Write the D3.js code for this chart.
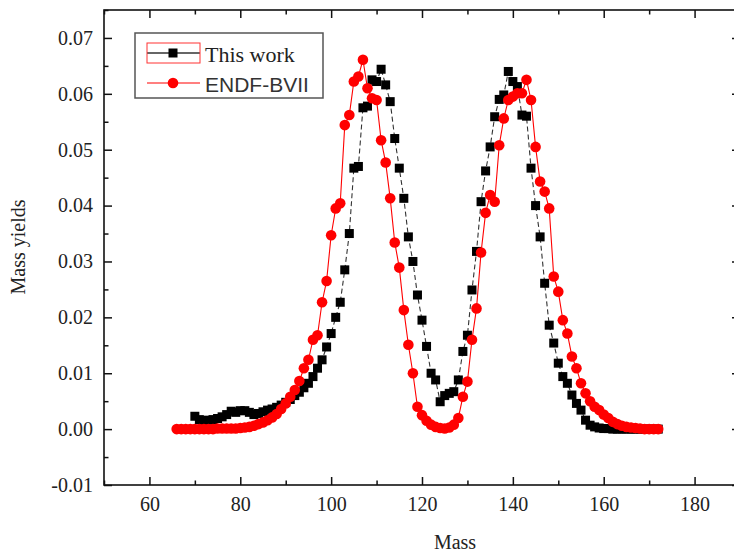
<!DOCTYPE html>
<html>
<head>
<meta charset="utf-8">
<script src="https://cdn.jsdelivr.net/npm/d3@7"></script>
<style>
	body { margin: 0; background: #fff; }
	svg { display: block; }
	.tick text { font-family: "Liberation Serif", "Times New Roman", serif; font-size: 20px; fill: #222; }
</style>
</head>
<body>
<div id="chart"></div>
<script>
// This work (black squares)
var massThis = [70, 71, 72, 73, 74, 75, 76, 77, 78, 79, 80, 81, 82, 83, 84, 85, 86, 87, 88, 89,
	90, 91, 92, 93, 94, 95, 96, 97, 98, 99, 100, 101, 102, 103, 104, 105, 106, 107, 108, 109,
	110, 111, 112, 113, 114, 115, 116, 117, 118, 119, 120, 121, 122, 123, 124, 125, 126, 127, 128, 129,
	130, 131, 132, 133, 134, 135, 136, 137, 138, 139, 140, 141, 142, 143, 144, 145, 146, 147, 148, 149,
	150, 151, 152, 153, 154, 155, 156, 157, 158, 159, 160, 161, 162, 163, 164, 165, 166, 167, 168, 169,
	170, 171, 172];
var yieldThis = [0.0023, 0.0017, 0.0015, 0.0016, 0.0017, 0.0019, 0.0022, 0.0026, 0.0032, 0.0030, 0.0033, 0.0033, 0.0030, 0.0026, 0.0028, 0.0031, 0.0034, 0.0036, 0.0039, 0.0043,
	0.0048, 0.0053, 0.0060, 0.0066, 0.0074, 0.0082, 0.0094, 0.0109, 0.0124, 0.0147, 0.0171, 0.0200, 0.0227, 0.0285, 0.0350, 0.0467, 0.0470, 0.0575, 0.0578, 0.0625,
	0.0622, 0.0644, 0.0616, 0.0586, 0.0520, 0.0467, 0.0413, 0.0344, 0.0300, 0.0240, 0.0195, 0.0148, 0.0100, 0.0088, 0.0049, 0.0060, 0.0064, 0.0067, 0.0088, 0.0139,
	0.0168, 0.0249, 0.0318, 0.0407, 0.0462, 0.0505, 0.0559, 0.0590, 0.0598, 0.0640, 0.0622, 0.0613, 0.0562, 0.0560, 0.0467, 0.0400, 0.0344, 0.0261, 0.0186, 0.0154,
	0.0118, 0.0094, 0.0082, 0.0061, 0.0046, 0.0034, 0.0016, 0.0007, 0.0004, 0.0002, 0.0001, 0.0001, 0.0000, 0.0000, 0.0000, 0.0000, 0.0000, 0.0000, 0.0000, 0.0000,
	0.0000, 0.0000, 0.0000];

// ENDF-BVII (red circles)
var massEndf = [66, 67, 68, 69, 70, 71, 72, 73, 74, 75, 76, 77, 78, 79, 80, 81, 82, 83, 84, 85, 86, 87, 88, 89,
	90, 91, 92, 93, 94, 95, 96, 97, 98, 99, 100, 101, 102, 103, 104, 105, 106, 107, 108, 109,
	110, 111, 112, 113, 114, 115, 116, 117, 118, 119, 120, 121, 122, 123, 124, 125, 126, 127, 128, 129,
	130, 131, 132, 133, 134, 135, 136, 137, 138, 139, 140, 141, 142, 143, 144, 145, 146, 147, 148, 149,
	150, 151, 152, 153, 154, 155, 156, 157, 158, 159, 160, 161, 162, 163, 164, 165, 166, 167, 168, 169,
	170, 171, 172];
var yieldEndf = [0.0000, 0.0000, 0.0000, 0.0000, 0.0000, 0.0000, 0.0000, 0.0000, 0.0000, 0.0001, 0.0001, 0.0001, 0.0001, 0.0001, 0.0002, 0.0003, 0.0004, 0.0006, 0.0009, 0.0012, 0.0016, 0.0021, 0.0027, 0.0036,
	0.0046, 0.0058, 0.0070, 0.0086, 0.0109, 0.0124, 0.0160, 0.0168, 0.0227, 0.0265, 0.0347, 0.0395, 0.0404, 0.0544, 0.0562, 0.0622, 0.0631, 0.0661, 0.0610, 0.0592,
	0.0589, 0.0517, 0.0477, 0.0413, 0.0334, 0.0289, 0.0213, 0.0151, 0.0100, 0.0040, 0.0025, 0.0015, 0.0008, 0.0004, 0.0002, 0.0001, 0.0003, 0.0008, 0.0020, 0.0058,
	0.0085, 0.0160, 0.0216, 0.0316, 0.0387, 0.0419, 0.0407, 0.0508, 0.0556, 0.0589, 0.0595, 0.0601, 0.0601, 0.0625, 0.0589, 0.0505, 0.0443, 0.0425, 0.0395, 0.0273,
	0.0246, 0.0195, 0.0171, 0.0130, 0.0109, 0.0082, 0.0064, 0.0050, 0.0040, 0.0034, 0.0026, 0.0020, 0.0013, 0.0009, 0.0006, 0.0004, 0.0003, 0.0002, 0.0001, 0.0000,
	0.0000, 0.0000, 0.0000];

var xTicks = [60, 80, 100, 120, 140, 160, 180];
var xMinor = [50, 70, 90, 110, 130, 150, 170, 190];
var yTicks = [-0.01, 0.00, 0.01, 0.02, 0.03, 0.04, 0.05, 0.06, 0.07];
var yMinor = [-0.005, 0.005, 0.015, 0.025, 0.035, 0.045, 0.055, 0.065, 0.075];
var legendNames = ["This work", "ENDF-BVII"];

var w = 734;
var h = 554;

var svg = d3.select("#chart").append("svg")
	.attr("width", w)
	.attr("height", h);

var x = d3.scaleLinear().domain([50, 190]).range([104, 740]);
var y = d3.scaleLinear().domain([-0.01, 0.075]).range([485, 10]);

function axes() {
	var fmt = function(d) { return d.toFixed(2); };
	var bottom = svg.append("g").attr("transform", "translate(0," + y(-0.01) + ")");
	bottom.call(d3.axisBottom(x).tickValues(xTicks).tickSize(-8).tickPadding(12));
	bottom.append("g").call(d3.axisBottom(x).tickValues(xMinor).tickSize(-4.5).tickFormat(""));
	var top = svg.append("g").attr("transform", "translate(0," + y(0.075) + ")");
	top.call(d3.axisTop(x).tickValues(xTicks).tickSize(-8).tickFormat(""));
	top.append("g").call(d3.axisTop(x).tickValues(xMinor).tickSize(-4.5).tickFormat(""));
	var left = svg.append("g").attr("transform", "translate(" + x(50) + ",0)");
	left.call(d3.axisLeft(y).tickValues(yTicks).tickSize(-8).tickPadding(11).tickFormat(fmt));
	left.append("g").call(d3.axisLeft(y).tickValues(yMinor).tickSize(-4.5).tickFormat(""));
	var right = svg.append("g").attr("transform", "translate(" + x(190) + ",0)");
	right.call(d3.axisRight(y).tickValues(yTicks).tickSize(-8).tickFormat(""));
	right.append("g").call(d3.axisRight(y).tickValues(yMinor).tickSize(-4.5).tickFormat(""));
	svg.selectAll(".domain").remove();
	svg.selectAll(".tick line").attr("stroke", "#111").attr("stroke-width", 1.5);

	svg.append("rect")
		.attr("x", x(50)).attr("y", y(0.075))
		.attr("width", x(190) - x(50)).attr("height", y(-0.01) - y(0.075))
		.attr("fill", "none").attr("stroke", "#111").attr("stroke-width", 1.6);

	svg.append("text")
		.attr("transform", "translate(25," + 247 + ") rotate(-90)")
		.attr("text-anchor", "middle")
		.style("font-family", "'Liberation Serif', serif")
		.style("font-size", "20px")
		.style("fill", "#222")
		.text("Mass yields");
	svg.append("text")
		.attr("x", 455).attr("y", 549)
		.attr("text-anchor", "middle")
		.style("font-family", "'Liberation Serif', serif")
		.style("font-size", "20px")
		.style("fill", "#222")
		.text("Mass");
}

function series(mass, vals, color, dash, marker) {
	var pts = mass.map(function(m, i) { return {m: m, v: vals[i]}; });
	var line = d3.line()
		.x(function(d) { return x(d.m); })
		.y(function(d) { return y(d.v); });
	svg.append("path")
		.datum(pts)
		.attr("d", line)
		.attr("fill", "none")
		.attr("stroke", color)
		.attr("stroke-width", 1.1)
		.attr("stroke-dasharray", dash);
	if(marker == "square") {
		svg.append("g").selectAll("rect")
			.data(pts)
			.enter()
			.append("rect")
			.attr("x", function(d) { return x(d.m) - 4.5; })
			.attr("y", function(d) { return y(d.v) - 4.5; })
			.attr("width", 9)
			.attr("height", 9)
			.attr("fill", "#000");
	} else {
		svg.append("g").selectAll("circle")
			.data(pts)
			.enter()
			.append("circle")
			.attr("cx", function(d) { return x(d.m); })
			.attr("cy", function(d) { return y(d.v); })
			.attr("r", 5.3)
			.attr("fill", "#f00");
	}
}

function legend() {
	var g = svg.append("g");
	g.append("rect")
		.attr("x", 135).attr("y", 33).attr("width", 188).attr("height", 65)
		.attr("fill", "#fff").attr("stroke", "#555").attr("stroke-width", 1.5);
	// row 1
	g.append("line").attr("x1", 147).attr("x2", 200).attr("y1", 53).attr("y2", 53)
		.attr("stroke", "#333").attr("stroke-width", 1.3);
	g.append("rect").attr("x", 147).attr("y", 43).attr("width", 53).attr("height", 20)
		.attr("fill", "none").attr("stroke", "#f33").attr("stroke-width", 1);
	g.append("rect").attr("x", 168.5).attr("y", 48.5).attr("width", 9).attr("height", 9).attr("fill", "#000");
	g.append("text").attr("x", 205).attr("y", 62)
		.style("font-family", "'Liberation Serif', serif").style("font-size", "22px").style("fill", "#222")
		.text(legendNames[0]);
	// row 2
	g.append("line").attr("x1", 147).attr("x2", 200).attr("y1", 83).attr("y2", 83)
		.attr("stroke", "#f00").attr("stroke-width", 1.1);
	g.append("circle").attr("cx", 173).attr("cy", 83).attr("r", 5.3).attr("fill", "#f00");
	g.append("text").attr("x", 205).attr("y", 92)
		.style("font-family", "'Liberation Sans', Arial, sans-serif").style("font-size", "21px").style("fill", "#333")
		.text(legendNames[1]);
}

axes();
series(massThis, yieldThis, "#333", "5,3", "square");
series(massEndf, yieldEndf, "#f00", null, "circle");
legend();
</script>
</body>
</html>
